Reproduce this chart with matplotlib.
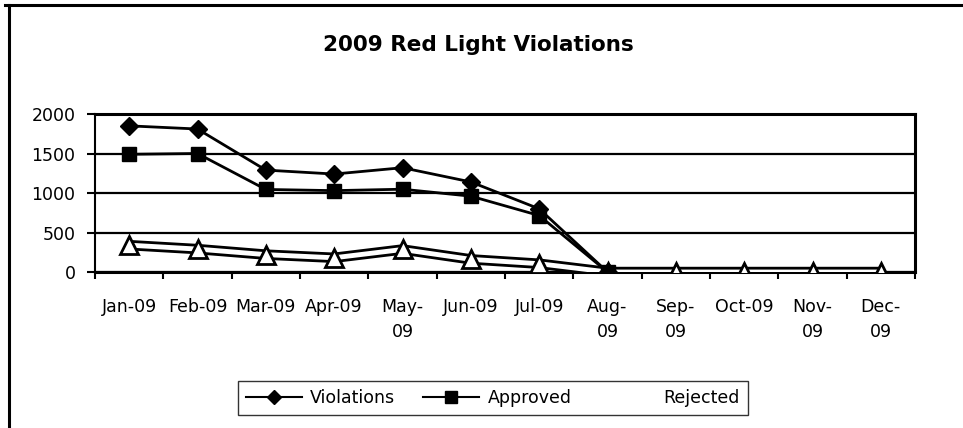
import numpy as np
import matplotlib.pyplot as plt
from matplotlib.lines import Line2D

plt.rcParams['font.family'] = ['DejaVu Sans']

months = ['Jan-09', 'Feb-09', 'Mar-09', 'Apr-09', 'May-\n09', 'Jun-09',
          'Jul-09', 'Aug-\n09', 'Sep-\n09', 'Oct-09', 'Nov-\n09', 'Dec-\n09']
violations = [1850, 1810, 1290, 1240, 1320, 1140, 800, 0]
approved = [1490, 1500, 1045, 1030, 1048, 960, 715, 0]
rejected = [340, 290, 220, 180, 285, 160, 105, 0, 0, 0, 0, 0]

W, H = 963, 428
fig = plt.figure(figsize = (W / 100, H / 100), dpi = 100)

# outer chart frame (only top and left survive in the scan)
fig.add_artist(Line2D([5 / W, 1], [1 - 5 / H, 1 - 5 / H], color = 'black', lw = 2.2))
fig.add_artist(Line2D([9 / W, 9 / W], [0, 1 - 5 / H], color = 'black', lw = 2.2))

ax = fig.add_axes([95 / W, (H - 272) / H, 820 / W, (272 - 114) / H])

x_all = np.arange(len(months))
x_va = np.arange(len(violations))

# rejected: pale line that came out white with a dark rim
ax.plot(x_all, rejected, color = 'black', lw = 7.5, solid_capstyle = 'butt', zorder = 3)
ax.plot(x_all, rejected, color = 'white', lw = 3.5, marker = '^', markersize = 13,
        markerfacecolor = 'white', markeredgecolor = 'black', markeredgewidth = 2,
        zorder = 4)

ax.plot(x_va, approved, color = 'black', lw = 2, marker = 's', markersize = 10.5, zorder = 5)
ax.plot(x_va, violations, color = 'black', lw = 2, marker = 'D', markersize = 9, zorder = 6)

ax.set(xlim = [-0.5, len(months) - 0.5], ylim = [0, 2000])
ax.set_yticks(np.arange(0, 2001, 500))
ax.yaxis.grid(True, color = 'black', lw = 1.6)
ax.set_axisbelow(True)

ax.set_xticks(x_all)
ax.set_xticklabels(months, fontsize = 12.5, va = 'top', linespacing = 1.45)
ax.set_xticks(np.arange(-0.5, len(months)), minor = True)
ax.tick_params(axis = 'x', which = 'major', length = 0, pad = 19)
ax.tick_params(axis = 'x', which = 'minor', length = 5, width = 1.5, direction = 'out')
ax.tick_params(axis = 'y', length = 6, width = 1.5, labelsize = 12.5, pad = 8)

for side in ['top', 'right', 'bottom']:
    ax.spines[side].set_linewidth(2.2)
ax.spines['left'].set_linewidth(1.5)

fig.text(478 / W, 1 - 45 / H, '2009 Red Light Violations', ha = 'center', va = 'center',
         fontsize = 15.5, fontweight = 'bold')

handles = [
    Line2D([], [], color = 'black', lw = 1.5, marker = 'D', markersize = 7),
    Line2D([], [], color = 'black', lw = 1.5, marker = 's', markersize = 8),
    Line2D([], [], color = 'white', lw = 1.5),
]
leg = fig.legend(handles, ['Violations', 'Approved', 'Rejected'], ncol = 3,
                 loc = 'center', bbox_to_anchor = (493 / W, 1 - 398 / H),
                 fontsize = 12.5, frameon = True, fancybox = False,
                 handlelength = 3.2, handletextpad = 0.5, columnspacing = 1.6,
                 borderpad = 0.45, borderaxespad = 0)
leg.get_frame().set_edgecolor('black')
leg.get_frame().set_linewidth(1)

fig.savefig('out.png', dpi = 100)
